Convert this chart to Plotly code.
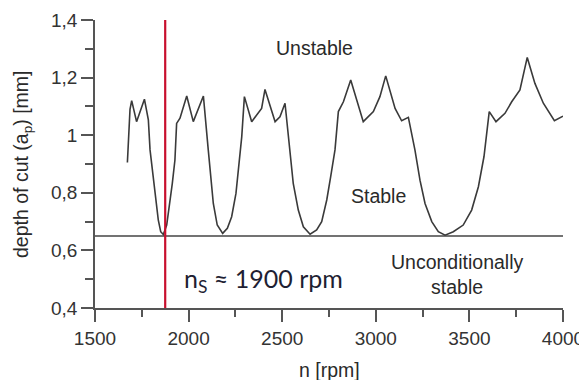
import plotly.graph_objects as go

# Stability lobe curve
n_rpm = [1673, 1687, 1696, 1722, 1764, 1785, 1794, 1812, 1826, 1838, 1851, 1865, 1883, 1897, 1913, 1927,
         1936, 1954, 1990, 2025, 2079, 2105, 2118, 2132, 2153, 2182, 2207, 2230, 2253, 2271, 2284,
         2298, 2337, 2390, 2408, 2462, 2488, 2515, 2540, 2559, 2586, 2613, 2649, 2684, 2711, 2738,
         2759, 2782, 2800, 2827, 2866, 2933, 2987, 3022, 3053, 3103, 3138, 3174, 3209, 3236, 3263,
         3299, 3334, 3370, 3414, 3467, 3512, 3548, 3578, 3606, 3642, 3690, 3726, 3770, 3809, 3850,
         3895, 3954, 4000]
depth = [0.905, 1.09, 1.12, 1.047, 1.125, 1.053, 0.949, 0.856, 0.775, 0.706, 0.665, 0.655, 0.688, 0.752, 0.833, 0.914,
         1.041, 1.059, 1.136, 1.047, 1.136, 0.949, 0.856, 0.763, 0.688, 0.659, 0.677, 0.717, 0.798, 0.902, 0.995,
         1.134, 1.047, 1.093, 1.159, 1.047, 1.064, 1.111, 0.949, 0.833, 0.74, 0.682, 0.656, 0.671, 0.7, 0.775,
         0.856, 0.949, 1.082, 1.116, 1.192, 1.047, 1.082, 1.134, 1.206, 1.093, 1.05, 1.062, 0.949, 0.844, 0.763,
         0.7, 0.665, 0.653, 0.665, 0.688, 0.74, 0.821, 0.926, 1.082, 1.047, 1.076, 1.116, 1.157, 1.27, 1.18,
         1.111, 1.05, 1.066]

limit_depth = 0.65          # unconditionally stable limit
ns_rpm = 1875               # selected spindle speed
x_range = [1500, 4000]
y_range = [0.4, 1.4]
x_ticks = [1500, 2000, 2500, 3000, 3500, 4000]
y_ticks = [0.4, 0.6, 0.8, 1.0, 1.2, 1.4]
y_tick_labels = ["0,4", "0,6", "0,8", "1", "1,2", "1,4"]

fig = go.Figure()
fig.add_trace(go.Scatter(x=x_range, y=[limit_depth, limit_depth], mode="lines",
                         line=dict(color="#444444", width=1.5), showlegend=False))
fig.add_trace(go.Scatter(x=n_rpm, y=depth, mode="lines",
                         line=dict(color="#3a3a3a", width=1.6), showlegend=False))
fig.add_trace(go.Scatter(x=[ns_rpm, ns_rpm], y=y_range, mode="lines",
                         line=dict(color="#c8102e", width=2.2), showlegend=False, cliponaxis=False))

axis_common = dict(showgrid=False, zeroline=False, showline=True, linecolor="#555555", linewidth=1.5,
                   ticks="outside", ticklen=12, tickwidth=1.5, tickcolor="#555555", automargin=False,
                   tickfont=dict(family="Liberation Sans, Arial", size=19, color="#333333"))

fig.update_xaxes(range=x_range, tickvals=x_ticks, **axis_common,
                 minor=dict(dtick=250, ticklen=7, tickwidth=1.5, tickcolor="#555555", ticks="outside"))
fig.update_yaxes(range=y_range, tickvals=y_ticks, ticktext=y_tick_labels, **axis_common,
                 minor=dict(dtick=0.1, ticklen=8, tickwidth=1.5, tickcolor="#555555", ticks="outside"))

txt = dict(family="Liberation Sans, Arial", size=19.5, color="#2a2a2a")
fig.add_annotation(x=2675, y=1.303, text="Unstable", showarrow=False, font=txt)
fig.add_annotation(x=3012, y=0.789, text="Stable", showarrow=False, font=txt)
fig.add_annotation(x=3434, y=0.518, text="Unconditionally<br>stable", showarrow=False, font=txt)
fig.add_annotation(x=2400, y=0.497, text="n<sub>S</sub> ≈ 1900 rpm", showarrow=False,
                   font=dict(family="Lato, Open Sans", size=25, color="#1f1f33"))
fig.add_annotation(xref="paper", yref="paper", x=0.5, y=0, yanchor="middle", yshift=-62,
                   text="n [rpm]", showarrow=False, font=txt)
fig.add_annotation(xref="paper", yref="paper", x=0, y=0.5, textangle=-90, xanchor="center",
                   xshift=-73, text="depth of cut (a<sub>p</sub>) [mm]", showarrow=False, font=txt)

# page body adds an 8px offset; margins compensate so the plot area lands at 95..563 x 20..308
fig.update_layout(width=587, height=380, plot_bgcolor="white", paper_bgcolor="white",
                  margin=dict(l=87, r=32, t=12, b=80), showlegend=False)

fig.write_html("out.html")
